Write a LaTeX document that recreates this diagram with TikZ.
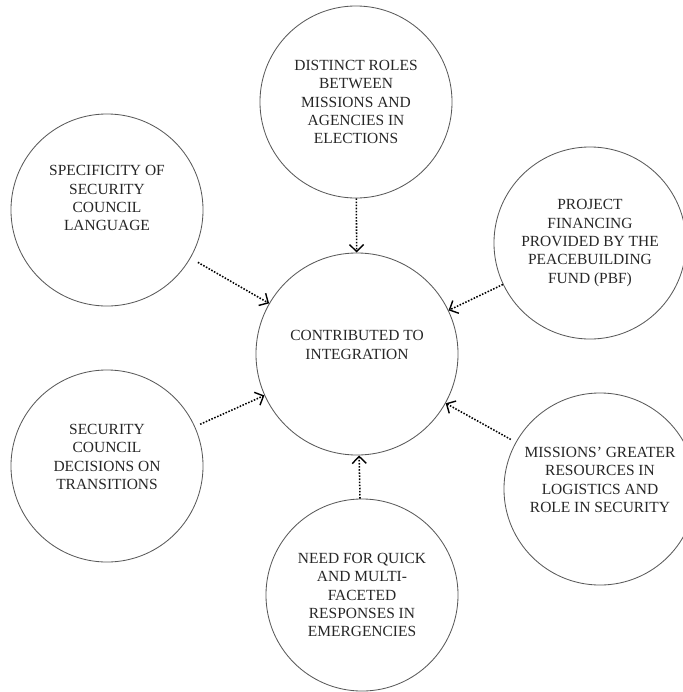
\documentclass[tikz,border=0pt]{standalone}
\usepackage{fontspec}
\setmainfont{Liberation Serif}
\usetikzlibrary{arrows.meta}

\begin{document}
\begin{tikzpicture}
  [
    x=0.025cm, y=-0.025cm,
    bubble/.style={
      circle,
      draw=black!65,
      line width=.6pt,
      inner sep=0pt,
      minimum size=4.8cm,
      align=center,
      font=\fontsize{11}{13}\selectfont,
      text=black!85
    },
    hub/.style={
      bubble,
      minimum size=5.05cm
    },
    feed/.style={
      line width=1.1pt,
      dash pattern=on 1.1pt off 1.1pt,
      -{Straight Barb[length=5pt,width=10pt,line width=1pt]}
    }
  ]
  \useasboundingbox (0,0) rectangle (683,692);

  % hub
  \node [hub] (c) at (357,354) {CONTRIBUTED TO\\INTEGRATION\\\mbox{}};

  % outer circles
  \node [bubble] (tp) at (356,102) {DISTINCT ROLES\\BETWEEN\\MISSIONS AND\\AGENCIES IN\\ELECTIONS};
  \node [bubble] (tl) at (107,210) {SPECIFICITY OF\\SECURITY\\COUNCIL\\LANGUAGE\\[4pt]\mbox{}};
  \node [bubble] (rt) at (590,243) {PROJECT\\FINANCING\\PROVIDED BY THE\\PEACEBUILDING\\FUND (PBF)};
  \node [bubble] (lb) at (107,466) {SECURITY\\COUNCIL\\DECISIONS ON\\TRANSITIONS\\\mbox{}};
  \node [bubble] (rb) at (600,489) {MISSIONS’ GREATER\\RESOURCES IN\\LOGISTICS AND\\ROLE IN SECURITY\\\mbox{}};
  \node [bubble] (bt) at (362,595) {NEED FOR QUICK\\AND MULTI-\\FACETED\\RESPONSES IN\\EMERGENCIES};

  % arrows
  \foreach \s/\g in {tp/0pt,tl/6pt,rt/0pt,lb/4pt,rb/4pt,bt/0pt} {
    \draw [feed, shorten <=\g] (\s) -- (c);
  }
\end{tikzpicture}
\end{document}
